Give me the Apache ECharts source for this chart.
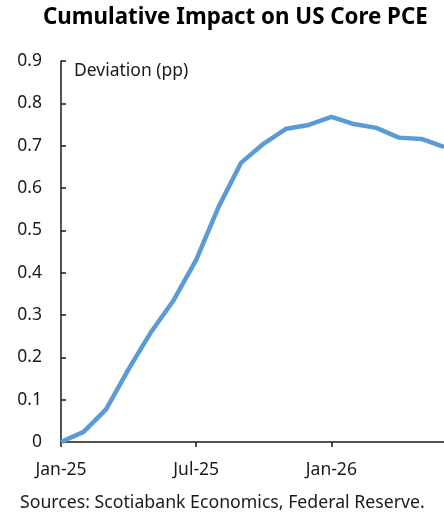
<!DOCTYPE html>
<html>
<head>
<meta charset="utf-8">
<script src="https://cdn.jsdelivr.net/npm/echarts@6/dist/echarts.min.js"></script>
<style>
  html, body { margin: 0; padding: 0; background: #fff; }
  #chart { width: 444px; height: 519px; }
</style>
</head>
<body>
<div id="chart"></div>
<script>
// Monthly categories, Jan-25 through Jun-26
const months = ['Jan-25','Feb-25','Mar-25','Apr-25','May-25','Jun-25','Jul-25','Aug-25','Sep-25','Oct-25','Nov-25','Dec-25',
                'Jan-26','Feb-26','Mar-26','Apr-26','May-26','Jun-26'];
// Cumulative deviation of core PCE, percentage points
const deviation = [0, 0.024, 0.077, 0.172, 0.26, 0.335, 0.43, 0.556, 0.66, 0.705, 0.74, 0.749,
                   0.768, 0.751, 0.742, 0.719, 0.716, 0.697];
const yTicks = { min: 0, max: 0.9, step: 0.1 };

const FONT = '"Noto Sans", "Open Sans", sans-serif';
const INK = '#1a1a1a';

const chart = echarts.init(document.getElementById('chart'), null, { renderer: 'canvas' });
chart.setOption({
  animation: false,
  backgroundColor: '#fff',
  title: {
    text: 'Cumulative Impact on US Core PCE',
    left: 38, top: 2,
    textStyle: { fontFamily: FONT, fontWeight: 'bold', fontSize: 22.3, color: '#000' }
  },
  grid: { left: 61, right: 0, top: 61, bottom: 77, containLabel: false },
  xAxis: {
    type: 'category',
    data: months,
    boundaryGap: false,
    axisLine: { lineStyle: { color: INK, width: 1.5 } },
    axisTick: { show: true, interval: 5, length: 5, lineStyle: { color: INK, width: 1.5 } },
    axisLabel: { interval: 5, margin: 19, fontFamily: FONT, fontSize: 17.5, color: INK }
  },
  yAxis: {
    type: 'value',
    min: yTicks.min, max: yTicks.max, interval: yTicks.step,
    splitLine: { show: false },
    axisLine: { show: true, lineStyle: { color: INK, width: 1.5 } },
    axisTick: { show: true, inside: true, length: 5, lineStyle: { color: INK, width: 1.5 } },
    axisLabel: {
      margin: 19, fontFamily: FONT, fontSize: 17.5, color: INK,
      formatter: v => (v === 0 ? '0' : v.toFixed(1))
    }
  },
  graphic: [
    { type: 'text', left: 74, top: 62,
      style: { text: 'Deviation (pp)', font: '17.5px ' + FONT, fill: INK } },
    { type: 'text', left: 20, top: 494,
      style: { text: 'Sources: Scotiabank Economics, Federal Reserve.', font: '17.7px ' + FONT, fill: INK } }
  ],
  series: [{
    type: 'line',
    data: deviation,
    symbol: 'none',
    lineStyle: { color: '#5b9bd5', width: 4.5 },
    clip: false
  }]
});
</script>
</body>
</html>
